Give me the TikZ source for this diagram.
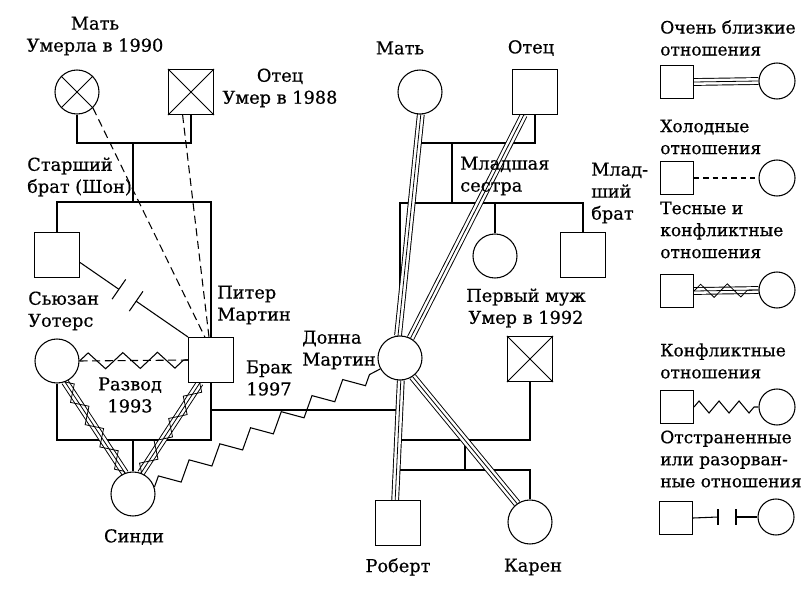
\documentclass[tikz,border=0pt]{standalone}
\usepackage{fontspec}
\setmainfont{DejaVu Serif}[FakeBold=0.6]
\usetikzlibrary{decorations.pathmorphing,calc,backgrounds}
\begin{document}
\begin{tikzpicture}[x=0.75pt,y=-0.75pt,
  every node/.style={font=\fontsize{13.3}{16.5}\selectfont, inner sep=0pt},
  lw/.style={line width=0.8pt},
  person/.style={draw, line width=0.8pt, fill=white, inner sep=0pt},
  male/.style={person, rectangle, minimum size=33.75pt},
  female/.style={person, circle, minimum size=33pt},
  lsq/.style={person, rectangle, minimum size=24.75pt},
  lci/.style={person, circle, minimum size=27pt},
  lblL/.style={align=left, anchor=west},
  lblC/.style={align=center},
  leg/.style={lblL, font=\fontsize{12.8}{16.5}\selectfont},
  closeline/.style={line width=0.6pt, preaction={draw, line width=0.7pt, double=white, double distance=4.4pt}},
  tightconf/.style={closeline, postaction={draw, line width=0.6pt, decorate, decoration={zigzag, amplitude=5pt, segment length=20pt}}},
  conflict/.style={line width=0.8pt, decorate, decoration={zigzag, amplitude=6pt, segment length=26pt}},
  cold/.style={line width=0.8pt, dash pattern=on 6pt off 3.5pt}
]
\useasboundingbox (0,0) rectangle (809,595);

% ---------- persons: left family
\node[female] (lm) at (77,92) {};
\node[male] (lf) at (191,92) {};
\node[male] (sb) at (57,255) {};
\node[male] (pm) at (211,360) {};
\node[female] (su) at (57,361) {};
\node[female] (ci) at (133,494) {};
% ---------- persons: right family
\node[female] (rm) at (420,92) {};
\node[male] (rf) at (535,92) {};
\node[female] (ys) at (495,256) {};
\node[male] (yb) at (583,255) {};
\node[female] (dn) at (400,358) {};
\node[male] (fh) at (530,359) {};
\node[male] (rob) at (398,523) {};
\node[female] (kar) at (530,522) {};

% deceased marks
\foreach \p in {lm,lf,fh}{
  \draw[line width=0.6pt] (\p.north west) -- (\p.south east) (\p.north east) -- (\p.south west);
}

% ---------- legend persons
\node[lsq] (ls1) at (677,82) {};  \node[lci] (lc1) at (777,81) {};
\node[lsq] (ls2) at (677,178) {}; \node[lci] (lc2) at (777,178) {};
\node[lsq] (ls3) at (677,291) {}; \node[lci] (lc3) at (777,290) {};
\node[lsq] (ls4) at (677,407) {}; \node[lci] (lc4) at (777,407) {};
\node[lsq] (ls5) at (676,518) {}; \node[lci] (lc5) at (776,517) {};

% ---------- junctions
\coordinate (lpj) at (133,143);
\coordinate (lsj) at (133,202);
\coordinate (lmj) at (133,440);
\coordinate (pdj) at (211,410);
\coordinate (rpj) at (452,143);
\coordinate (rsj) at (452,203);
\coordinate (dmj) at (465,440);
\coordinate (dcj) at (465,470);

\begin{scope}[on background layer]
\fill[white] (0,0) rectangle (809,595);
% family lines
\draw[lw] (lm.south) |- (lpj) -| (lf.south);
\draw[lw] (lpj) -- (lsj);
\draw[lw] (sb.north) |- (lsj) -| (pm.north);
\draw[lw] (su.south) |- (lmj) -| (pm.south);
\draw[lw] (lmj) -- (ci.north);
\draw[lw] (pdj) -- (pdj -| dn.south);
\draw[lw] (rm.south) |- (rpj) -| (rf.south);
\draw[lw] (rpj) -- (rsj);
\draw[lw] (dn.north) |- (rsj) -| (yb.north);
\draw[lw] (ys.north) -- (ys.north |- rsj);
\draw[lw] (dn.south) |- (dmj) -| (fh.south);
\draw[lw] (dmj) -- (dcj);
\draw[lw] (rob.north) |- (dcj) -| (kar.north);

% relationships
\draw[cold] (lm.-45) -- (pm.105);
\draw[cold] (lf.-110) -- (pm.95);
\coordinate (cA) at ($(sb.-18)!0.36!(pm.north west)$);
\coordinate (cB) at ($(sb.-18)!0.52!(pm.north west)$);
\draw[lw] (sb.-18) -- (cA);
\draw[lw] (cB) -- (pm.north west);
\draw[lw] ($(cA)!9pt!90:(pm.north west)$) -- ($(cA)!9pt!-90:(pm.north west)$);
\draw[lw] ($(cB)!9pt!90:(pm.north west)$) -- ($(cB)!9pt!-90:(pm.north west)$);
\draw[cold] (su.east) -- (pm.west);
\draw[conflict] (su.east) -- (pm.west);
\draw[tightconf] (su.-69) -- (ci.111);
\draw[tightconf] (pm.-116) -- (ci.69);
\draw[conflict] (ci.18) -- (dn.-151);
\draw[closeline] (rm.-88) -- (dn.95);
\draw[closeline] (rf.-116) -- (dn.62);
\draw[closeline] (dn.-88) -- (rob.97);
\draw[closeline] (dn.-56) -- (kar.125);

% legend lines
\draw[closeline] (ls1.east) -- (lc1.west);
\draw[line width=0.8pt, dash pattern=on 4pt off 3pt] (ls2.east) -- (lc2.west);
\draw[tightconf, postaction={decoration={amplitude=3pt, segment length=15pt}}] (ls3.east) -- (lc3.west);
\draw[conflict, decoration={amplitude=4.5pt, segment length=15pt}] (ls4.east) -- (lc4.west);
\coordinate (e1) at (718,517);
\coordinate (e2) at (736,517);
\draw[lw] (ls5.east) -- (e1);
\draw[lw] (e2) -- (lc5.west);
\draw[lw] ($(e1)+(0,-8)$) -- ($(e1)+(0,8)$);
\draw[lw] ($(e2)+(0,-8)$) -- ($(e2)+(0,8)$);
\end{scope}

% ---------- labels
\node[lblC] (t1) at (95,36) {Мать\\Умерла в 1990};
\node[lblC] (t2) at (280,88) {Отец\\Умер в 1988};
\node[lblL] (t3) at (27,177) {Старший\\брат (Шон)};
\node[lblL] (t4) at (28,311) {Сьюзан\\Уотерс};
\node[lblL] (t5) at (217,305) {Питер\\Мартин};
\node[lblC] (t6) at (130,395) {Развод\\1993};
\node[lblC] (t7) at (269,378) {Брак\\1997};
\node[lblL] (t8) at (302,350) {Донна\\Мартин};
\node (t9) at (134,537) {Синди};
\node (t10) at (400,48) {Мать};
\node (t11) at (531,48) {Отец};
\node[lblL] (t12) at (460,176) {Младшая\\сестра};
\node[lblL] (t13) at (591,193) {Млад-\\ший\\брат};
\node[lblC] (t14) at (526,308) {Первый муж\\Умер в 1992};
\node (t15) at (398,567) {Роберт};
\node (t16) at (533,567) {Карен};
% legend labels
\node[leg] (g1) at (660,38) {Очень близкие\\отношения};
\node[leg] (g2) at (660,137) {Холодные\\отношения};
\node[leg] (g3) at (660,230) {Тесные и\\конфликтные\\отношения};
\node[leg] (g4) at (660,361) {Конфликтные\\отношения};
\node[leg] (g5) at (660,459) {Отстраненные\\или разорван-\\ные отношения};
\end{tikzpicture}
\end{document}
